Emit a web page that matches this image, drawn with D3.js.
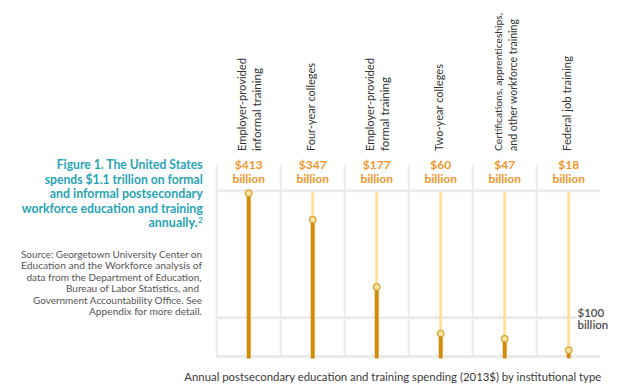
<!DOCTYPE html>
<html><head><meta charset="utf-8">
<script src="https://cdn.jsdelivr.net/npm/d3@7"></script>
<style>body{margin:0;background:#fff}svg{display:block}text{font-family:Lato,"Open Sans",sans-serif}</style>
</head><body>
<script>
// ---- data ----
const categories = [
  ["Employer-provided", "informal training"],
  ["Four-year colleges"],
  ["Employer-provided", "formal training"],
  ["Two-year colleges"],
  ["Certifications, apprenticeships,", "and other workforce training"],
  ["Federal job training"]
];
const categoryLengths = [[93, 83], [88], [93, 74], [87], [138, 132], [95]];
const values = [413, 347, 177, 60, 47, 18];
const valueLabels = ["$413", "$347", "$177", "$60", "$47", "$18"];
const titleLines = ["Figure 1. The United States", "spends $1.1 trillion on formal", "and informal postsecondary", "workforce education and training"];
const titleLengths = [146, 158, 153, 181];
const titleLast = "annually.";
const sourceLines = ["Source: Georgetown University Center on", "Education and the Workforce analysis of", "data from the Department of Education,", "Bureau of Labor Statistics, and", "Government Accountability Office. See", "Appendix for more detail."];
const sourceLengths = [181, 181, 175, 133, 169, 113];
const refTick = 100;
const caption = "Annual postsecondary education and training spending (2013$) by institutional type";

const W = 624, H = 386;
const svg = d3.select("body").append("svg").attr("width", W).attr("height", H);

const x = d3.scaleBand().domain(d3.range(values.length)).range([216.7, 600.7]).padding(0);
const y = d3.scaleLinear().domain([0, 413]).range([357.4, 193.3]);
const cx = i => x(i) + x.bandwidth() / 2;

const grid = "#ebebeb";
// vertical gridlines
svg.append("g").selectAll("line").data(d3.range(values.length)).join("line")
  .attr("x1", i => x(i)).attr("x2", i => x(i))
  .attr("y1", 165).attr("y2", 356.5)
  .attr("stroke", grid).attr("stroke-width", 2);
// top and bottom horizontal lines
svg.append("line").attr("x1", 216).attr("x2", 600).attr("y1", 190.7).attr("y2", 190.7).attr("stroke", grid).attr("stroke-width", 3);
svg.append("line").attr("x1", 216).attr("x2", 600).attr("y1", 356.6).attr("y2", 356.6).attr("stroke", grid).attr("stroke-width", 3);
// $100 reference line
svg.append("line").attr("x1", 216).attr("x2", 576.5).attr("y1", y(refTick)).attr("y2", y(refTick)).attr("stroke", grid).attr("stroke-width", 3);
svg.append("text").attr("x", 577.5).attr("y", 316.8).attr("font-size", 11.5).attr("font-weight", 600).attr("fill", "#4d4d4d").text("$" + refTick);
svg.append("text").attr("x", 577.5).attr("y", 328.8).attr("font-size", 11.5).attr("font-weight", 600).attr("fill", "#4d4d4d").text("billion");

// tracks
svg.append("g").selectAll("line").data(values).join("line")
  .attr("x1", (d, i) => cx(i)).attr("x2", (d, i) => cx(i))
  .attr("y1", 192.3).attr("y2", d => y(d))
  .attr("stroke", "#fee39c").attr("stroke-width", 3);
// bars
svg.append("g").selectAll("line").data(values).join("line")
  .attr("x1", (d, i) => cx(i)).attr("x2", (d, i) => cx(i))
  .attr("y1", d => y(d)).attr("y2", 358.4)
  .attr("stroke", "#d38c07").attr("stroke-width", 4);
// dots
svg.append("g").selectAll("circle").data(values).join("circle")
  .attr("cx", (d, i) => cx(i)).attr("cy", d => y(d)).attr("r", 3.2)
  .attr("fill", "#fde6a4").attr("stroke", "#dca12f").attr("stroke-width", 1.3);

// value labels
const vl = svg.append("g").attr("font-size", 12).attr("font-weight", 700).attr("fill", "#f0952c").attr("text-anchor", "middle");
vl.selectAll("text.v").data(valueLabels).join("text").attr("class", "v")
  .attr("x", (d, i) => cx(i)).attr("y", 169).text(d => d);
vl.selectAll("text.b").data(valueLabels).join("text").attr("class", "b")
  .attr("x", (d, i) => cx(i)).attr("y", 183).text("billion");

// rotated category labels
categories.forEach((lines, i) => {
  const offs = lines.length === 1 ? [2] : [-3, 12];
  lines.forEach((t, j) => {
    const bx = cx(i) + offs[j];
    const fs = t.length > 28 ? 10 : 10.8;
    svg.append("text")
      .attr("transform", `translate(${bx},151) rotate(-90)`)
      .attr("font-size", fs).attr("fill", "#333")
      .attr("textLength", categoryLengths[i][j]).attr("lengthAdjust", "spacingAndGlyphs")
      .text(t);
  });
});

// title
const tg = svg.append("g").attr("font-size", 12.5).attr("font-weight", 700).attr("fill", "#28a4b5").attr("text-anchor", "end");
titleLines.forEach((t, i) => {
  tg.append("text").attr("x", 202.7).attr("y", 169 + i * 14.6)
    .attr("textLength", titleLengths[i]).attr("lengthAdjust", "spacingAndGlyphs").text(t);
});
const last = tg.append("text").attr("x", 202.7).attr("y", 169 + 4 * 14.6);
last.append("tspan").text(titleLast);
last.append("tspan").attr("dy", -4.5).attr("dx", 0.5).attr("font-size", 8).text("2");

// source
const sg = svg.append("g").attr("font-size", 10).attr("fill", "#555").attr("text-anchor", "end");
sourceLines.forEach((t, i) => {
  const xr = [202, 202, 201.5, 199, 202, 202][i];
  sg.append("text").attr("x", xr).attr("y", 258 + i * 11.4)
    .attr("textLength", sourceLengths[i]).attr("lengthAdjust", "spacingAndGlyphs").text(t);
});

// caption
svg.append("text").attr("x", 184.3).attr("y", 381).attr("font-size", 11.5).attr("fill", "#3a3a3a")
  .attr("textLength", 417).attr("lengthAdjust", "spacingAndGlyphs").text(caption);
</script>
</body></html>
